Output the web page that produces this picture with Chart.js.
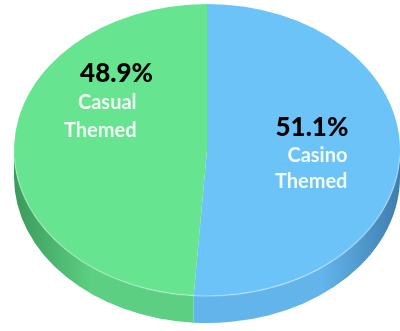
<!DOCTYPE html>
<html lang="en">

<head>
    <meta charset="UTF-8">
    <title>Game Themes Share</title>
    <script src="https://cdn.jsdelivr.net/npm/chart.js@4.4.0/dist/chart.umd.min.js"></script>
    <style>
        body {
            margin: 0;
            background: #fff;
        }

        #wrap {
            width: 400px;
            height: 331px;
        }
    </style>
</head>

<body>
    <div id="wrap">
        <canvas id="pieChart"></canvas>
    </div>

    <script>
        const categories = ['Casino Themed', 'Casual Themed'];
        const shares = [51.1, 48.9];

        const topColors = ['#6CC3F8', '#67E48F'];
        const sideLight = ['#62B4EA', '#5CCF82'];
        const sideDark = ['#3F7DAE', '#3A9A5B'];

        const DEPTH = 27;

        // where each label block sits, relative to the middle of its slice
        const labelOffsets = [
            { pct: [45, -17], pctAlign: 'right', name: [44, 9], gap: 26 },
            { pct: [6, -65], pctAlign: 'center', name: [26, -38], gap: 28 }
        ];

        function ellipseGeom(chart) {
            const ca = chart.chartArea;
            const rx = (ca.right - ca.left) / 2;
            const ry = (ca.bottom - ca.top - DEPTH) / 2;
            return { cx: (ca.left + ca.right) / 2, cy: ca.top + ry, rx, ry };
        }

        const pie3d = {
            id: 'pie3d',
            beforeDatasetsDraw(chart) {
                const ctx = chart.ctx;
                const meta = chart.getDatasetMeta(0);
                const g = ellipseGeom(chart);

                // the front wall of the pie
                meta.data.forEach((arc, i) => {
                    const a0 = Math.max(arc.startAngle, 0);
                    const a1 = Math.min(arc.endAngle, Math.PI);
                    if (a1 <= a0) return;
                    const grad = ctx.createLinearGradient(g.cx - g.rx, 0, g.cx + g.rx, 0);
                    grad.addColorStop(0, sideDark[i]);
                    grad.addColorStop(0.2, sideLight[i]);
                    grad.addColorStop(0.8, sideLight[i]);
                    grad.addColorStop(1, sideDark[i]);
                    ctx.beginPath();
                    ctx.ellipse(g.cx, g.cy, g.rx, g.ry, 0, a0, a1);
                    ctx.ellipse(g.cx, g.cy + DEPTH, g.rx, g.ry, 0, a1, a0, true);
                    ctx.closePath();
                    ctx.fillStyle = grad;
                    ctx.fill();
                });

                // squash the round pie into the top face
                const arc = meta.data[0];
                ctx.save();
                ctx.translate(g.cx, g.cy);
                ctx.scale(g.rx / arc.outerRadius, g.ry / arc.outerRadius);
                ctx.translate(-arc.x, -arc.y);
            },
            afterDatasetsDraw(chart) {
                const ctx = chart.ctx;
                ctx.restore();
                const meta = chart.getDatasetMeta(0);
                const g = ellipseGeom(chart);

                // soft highlight on the front rim
                ctx.beginPath();
                ctx.ellipse(g.cx, g.cy, g.rx, g.ry, 0, 0.05, Math.PI - 0.05);
                ctx.strokeStyle = 'rgba(255,255,255,0.3)';
                ctx.lineWidth = 1.5;
                ctx.stroke();

                meta.data.forEach((arc, i) => {
                    const mid = (arc.startAngle + arc.endAngle) / 2;
                    const ax = g.cx + g.rx * 0.5 * Math.cos(mid);
                    const ay = g.cy + g.ry * 0.5 * Math.sin(mid);
                    const off = labelOffsets[i];

                    ctx.textBaseline = 'alphabetic';
                    ctx.font = '900 26px Lato';
                    ctx.fillStyle = '#000';
                    ctx.textAlign = off.pctAlign;
                    ctx.fillText(shares[i].toFixed(1) + '%', ax + off.pct[0], ay + off.pct[1]);

                    ctx.font = 'bold 20px Lato';
                    ctx.fillStyle = '#F2FBF5';
                    ctx.textAlign = 'right';
                    categories[i].split(' ').forEach((word, k) => {
                        ctx.fillText(word, ax + off.name[0], ay + off.name[1] + k * off.gap);
                    });
                });
            }
        };

        new Chart(document.getElementById('pieChart'), {
            type: 'pie',
            data: {
                labels: categories,
                datasets: [{
                    data: shares,
                    backgroundColor: topColors,
                    borderWidth: 0
                }]
            },
            options: {
                responsive: true,
                maintainAspectRatio: false,
                animation: false,
                layout: {
                    padding: { left: 14, right: 0, top: 4, bottom: 8 }
                },
                plugins: {
                    legend: { display: false },
                    tooltip: { enabled: false }
                }
            },
            plugins: [pie3d]
        });
    </script>
</body>

</html>
